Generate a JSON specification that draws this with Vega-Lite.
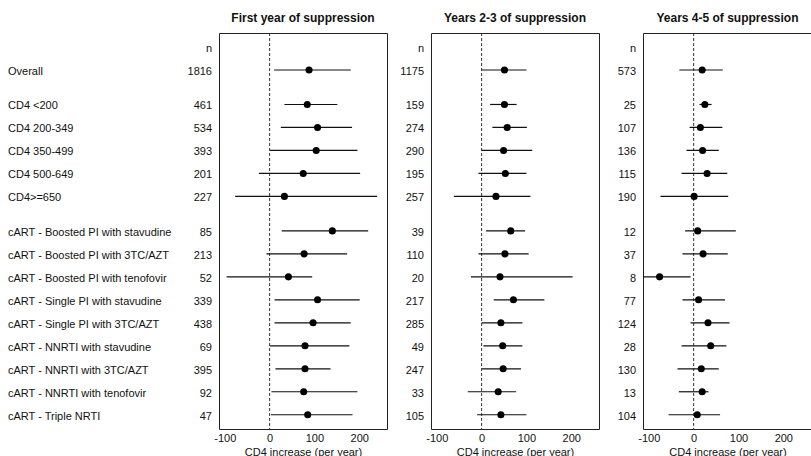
{
  "$schema": "https://vega.github.io/schema/vega-lite/v6.json",
  "padding": {"left": 8, "top": 11, "right": 0, "bottom": 0},
  "autosize": {"type": "pad"},
  "bounds": "flush",
  "spacing": 7,
  "config": {
    "font": "Liberation Sans",
    "view": {"stroke": "#222", "strokeWidth": 1},
    "text": {"fontSize": 11, "color": "#111"},
    "axis": {"labelFont": "Liberation Sans", "titleFont": "Liberation Sans", "labelColor": "#111", "titleColor": "#111"},
    "title": {"font": "Liberation Sans", "fontSize": 12, "fontWeight": "bold", "color": "#111", "offset": 8, "frame": "group"}
  },
  "datasets": {
    "rows": [
      {"panel": "P1", "label": "Overall", "pos": 1, "n": 1816, "est": 88, "lo": 10, "hi": 181},
      {"panel": "P1", "label": "CD4 <200", "pos": 2.5, "n": 461, "est": 84, "lo": 33, "hi": 151},
      {"panel": "P1", "label": "CD4 200-349", "pos": 3.5, "n": 534, "est": 107, "lo": 25, "hi": 184},
      {"panel": "P1", "label": "CD4 350-499", "pos": 4.5, "n": 393, "est": 104, "lo": 1, "hi": 196},
      {"panel": "P1", "label": "CD4 500-649", "pos": 5.5, "n": 201, "est": 75, "lo": -24, "hi": 202},
      {"panel": "P1", "label": "CD4>=650", "pos": 6.5, "n": 227, "est": 33, "lo": -77, "hi": 240},
      {"panel": "P1", "label": "cART - Boosted PI with stavudine", "pos": 8, "n": 85, "est": 140, "lo": 27, "hi": 220},
      {"panel": "P1", "label": "cART - Boosted PI with 3TC/AZT", "pos": 9, "n": 213, "est": 77, "lo": -7, "hi": 173},
      {"panel": "P1", "label": "cART - Boosted PI with tenofovir", "pos": 10, "n": 52, "est": 42, "lo": -96, "hi": 95},
      {"panel": "P1", "label": "cART - Single PI with stavudine", "pos": 11, "n": 339, "est": 107, "lo": 11, "hi": 201},
      {"panel": "P1", "label": "cART - Single PI with 3TC/AZT", "pos": 12, "n": 438, "est": 97, "lo": 11, "hi": 181},
      {"panel": "P1", "label": "cART - NNRTI with stavudine", "pos": 13, "n": 69, "est": 79, "lo": 1, "hi": 178},
      {"panel": "P1", "label": "cART - NNRTI with 3TC/AZT", "pos": 14, "n": 395, "est": 79, "lo": 13, "hi": 136},
      {"panel": "P1", "label": "cART - NNRTI with tenofovir", "pos": 15, "n": 92, "est": 76, "lo": 4, "hi": 196},
      {"panel": "P1", "label": "cART - Triple NRTI", "pos": 16, "n": 47, "est": 85, "lo": 3, "hi": 185},

      {"panel": "P2", "label": "Overall", "pos": 1, "n": 1175, "est": 51, "lo": 0, "hi": 100},
      {"panel": "P2", "label": "CD4 <200", "pos": 2.5, "n": 159, "est": 51, "lo": 19, "hi": 78},
      {"panel": "P2", "label": "CD4 200-349", "pos": 3.5, "n": 274, "est": 57, "lo": 24, "hi": 101},
      {"panel": "P2", "label": "CD4 350-499", "pos": 4.5, "n": 290, "est": 49, "lo": 0, "hi": 113},
      {"panel": "P2", "label": "CD4 500-649", "pos": 5.5, "n": 195, "est": 53, "lo": -7, "hi": 100},
      {"panel": "P2", "label": "CD4>=650", "pos": 6.5, "n": 257, "est": 32, "lo": -62, "hi": 109},
      {"panel": "P2", "label": "cART - Boosted PI with stavudine", "pos": 8, "n": 39, "est": 65, "lo": 10, "hi": 97},
      {"panel": "P2", "label": "cART - Boosted PI with 3TC/AZT", "pos": 9, "n": 110, "est": 52, "lo": -7, "hi": 105},
      {"panel": "P2", "label": "cART - Boosted PI with tenofovir", "pos": 10, "n": 20, "est": 41, "lo": -24, "hi": 203},
      {"panel": "P2", "label": "cART - Single PI with stavudine", "pos": 11, "n": 217, "est": 71, "lo": 27, "hi": 140},
      {"panel": "P2", "label": "cART - Single PI with 3TC/AZT", "pos": 12, "n": 285, "est": 43, "lo": 0, "hi": 91},
      {"panel": "P2", "label": "cART - NNRTI with stavudine", "pos": 13, "n": 49, "est": 47, "lo": 4, "hi": 91},
      {"panel": "P2", "label": "cART - NNRTI with 3TC/AZT", "pos": 14, "n": 247, "est": 48, "lo": 1, "hi": 88},
      {"panel": "P2", "label": "cART - NNRTI with tenofovir", "pos": 15, "n": 33, "est": 37, "lo": -31, "hi": 77},
      {"panel": "P2", "label": "cART - Triple NRTI", "pos": 16, "n": 105, "est": 43, "lo": -10, "hi": 100},

      {"panel": "P3", "label": "Overall", "pos": 1, "n": 573, "est": 19, "lo": -32, "hi": 65},
      {"panel": "P3", "label": "CD4 <200", "pos": 2.5, "n": 25, "est": 25, "lo": 13, "hi": 40},
      {"panel": "P3", "label": "CD4 200-349", "pos": 3.5, "n": 107, "est": 15, "lo": -9, "hi": 64},
      {"panel": "P3", "label": "CD4 350-499", "pos": 4.5, "n": 136, "est": 20, "lo": -16, "hi": 56},
      {"panel": "P3", "label": "CD4 500-649", "pos": 5.5, "n": 115, "est": 30, "lo": -27, "hi": 75},
      {"panel": "P3", "label": "CD4>=650", "pos": 6.5, "n": 190, "est": 1, "lo": -74, "hi": 77},
      {"panel": "P3", "label": "cART - Boosted PI with stavudine", "pos": 8, "n": 12, "est": 9, "lo": -19, "hi": 94},
      {"panel": "P3", "label": "cART - Boosted PI with 3TC/AZT", "pos": 9, "n": 37, "est": 21, "lo": -25, "hi": 76},
      {"panel": "P3", "label": "cART - Boosted PI with tenofovir", "pos": 10, "n": 8, "est": -76, "lo": -116, "hi": -7},
      {"panel": "P3", "label": "cART - Single PI with stavudine", "pos": 11, "n": 77, "est": 11, "lo": -25, "hi": 70},
      {"panel": "P3", "label": "cART - Single PI with 3TC/AZT", "pos": 12, "n": 124, "est": 32, "lo": -7, "hi": 80},
      {"panel": "P3", "label": "cART - NNRTI with stavudine", "pos": 13, "n": 28, "est": 38, "lo": -27, "hi": 73},
      {"panel": "P3", "label": "cART - NNRTI with 3TC/AZT", "pos": 14, "n": 130, "est": 17, "lo": -36, "hi": 56},
      {"panel": "P3", "label": "cART - NNRTI with tenofovir", "pos": 15, "n": 13, "est": 19, "lo": -33, "hi": 33},
      {"panel": "P3", "label": "cART - Triple NRTI", "pos": 16, "n": 104, "est": 8, "lo": -56, "hi": 59}
    ],
    "header": [{"pos": 0, "txt": "n"}],
    "zero": [{"v": 0}]
  },
  "hconcat": [
    {
      "width": 204, "height": 396, "view": {"stroke": null},
      "layer": [
        {
          "data": {"name": "rows"},
          "transform": [{"filter": "datum.panel == 'P1'"}],
          "mark": {"type": "text", "align": "left", "baseline": "middle", "dy": 2},
          "encoding": {
            "x": {"datum": 0, "type": "quantitative", "scale": {"domain": [0, 1]}, "axis": null},
            "y": {"field": "pos", "type": "quantitative", "scale": {"domain": [-0.61, 16.62], "reverse": true, "nice": false, "zero": false}, "axis": null},
            "text": {"field": "label"}
          }
        },
        {
          "data": {"name": "rows"},
          "transform": [{"filter": "datum.panel == 'P1'"}],
          "mark": {"type": "text", "align": "right", "baseline": "middle", "dy": 2},
          "encoding": {
            "x": {"datum": 1, "type": "quantitative", "scale": {"domain": [0, 1]}, "axis": null},
            "y": {"field": "pos", "type": "quantitative", "scale": {"domain": [-0.61, 16.62], "reverse": true, "nice": false, "zero": false}, "axis": null},
            "text": {"field": "n"}
          }
        },
        {
          "data": {"name": "header"},
          "mark": {"type": "text", "align": "right", "baseline": "middle", "dy": 2},
          "encoding": {
            "x": {"datum": 1, "type": "quantitative", "scale": {"domain": [0, 1]}, "axis": null},
            "y": {"field": "pos", "type": "quantitative", "scale": {"domain": [-0.61, 16.62], "reverse": true, "nice": false, "zero": false}, "axis": null},
            "text": {"field": "txt"}
          }
        }
      ]
    },
    {
      "width": 168, "height": 396,
      "title": {"text": "First year of suppression"},
      "layer": [
        {
          "data": {"name": "zero"},
          "mark": {"type": "rule", "strokeDash": [3, 2], "color": "#333", "strokeWidth": 1},
          "encoding": {
            "x": {"field": "v", "type": "quantitative", "scale": {"domain": [-113, 262], "nice": false, "zero": false},
              "axis": {"values": [-100, 0, 100, 200], "labelExpr": "toString(datum.value)", "ticks": false, "domain": false, "grid": false, "labelPadding": 3, "labelFontSize": 11, "title": "CD4 increase (per year)", "titleFontSize": 11, "titleFontWeight": "normal", "titlePadding": 3}}
          }
        },
        {
          "data": {"name": "rows"},
          "transform": [{"filter": "datum.panel == 'P1'"}],
          "mark": {"type": "rule", "color": "#111", "strokeWidth": 1.2, "clip": true},
          "encoding": {
            "x": {"field": "lo", "type": "quantitative"},
            "x2": {"field": "hi"},
            "y": {"field": "pos", "type": "quantitative", "scale": {"domain": [-0.61, 16.62], "reverse": true, "nice": false, "zero": false}, "axis": null}
          }
        },
        {
          "data": {"name": "rows"},
          "transform": [{"filter": "datum.panel == 'P1'"}],
          "mark": {"type": "point", "filled": true, "color": "#000", "size": 50, "opacity": 1, "clip": true},
          "encoding": {
            "x": {"field": "est", "type": "quantitative"},
            "y": {"field": "pos", "type": "quantitative"}
          }
        }
      ]
    },
    {
      "width": 30, "height": 396, "view": {"stroke": null},
      "layer": [
        {
          "data": {"name": "rows"},
          "transform": [{"filter": "datum.panel == 'P2'"}],
          "mark": {"type": "text", "align": "right", "baseline": "middle", "dy": 2},
          "encoding": {
            "x": {"datum": 1, "type": "quantitative", "scale": {"domain": [0, 1]}, "axis": null},
            "y": {"field": "pos", "type": "quantitative", "scale": {"domain": [-0.61, 16.62], "reverse": true, "nice": false, "zero": false}, "axis": null},
            "text": {"field": "n"}
          }
        },
        {
          "data": {"name": "header"},
          "mark": {"type": "text", "align": "right", "baseline": "middle", "dy": 2},
          "encoding": {
            "x": {"datum": 1, "type": "quantitative", "scale": {"domain": [0, 1]}, "axis": null},
            "y": {"field": "pos", "type": "quantitative", "scale": {"domain": [-0.61, 16.62], "reverse": true, "nice": false, "zero": false}, "axis": null},
            "text": {"field": "txt"}
          }
        }
      ]
    },
    {
      "width": 168, "height": 396,
      "title": {"text": "Years 2-3 of suppression"},
      "layer": [
        {
          "data": {"name": "zero"},
          "mark": {"type": "rule", "strokeDash": [3, 2], "color": "#333", "strokeWidth": 1},
          "encoding": {
            "x": {"field": "v", "type": "quantitative", "scale": {"domain": [-113, 262], "nice": false, "zero": false},
              "axis": {"values": [-100, 0, 100, 200], "labelExpr": "toString(datum.value)", "ticks": false, "domain": false, "grid": false, "labelPadding": 3, "labelFontSize": 11, "title": "CD4 increase (per year)", "titleFontSize": 11, "titleFontWeight": "normal", "titlePadding": 3}}
          }
        },
        {
          "data": {"name": "rows"},
          "transform": [{"filter": "datum.panel == 'P2'"}],
          "mark": {"type": "rule", "color": "#111", "strokeWidth": 1.2, "clip": true},
          "encoding": {
            "x": {"field": "lo", "type": "quantitative"},
            "x2": {"field": "hi"},
            "y": {"field": "pos", "type": "quantitative", "scale": {"domain": [-0.61, 16.62], "reverse": true, "nice": false, "zero": false}, "axis": null}
          }
        },
        {
          "data": {"name": "rows"},
          "transform": [{"filter": "datum.panel == 'P2'"}],
          "mark": {"type": "point", "filled": true, "color": "#000", "size": 50, "opacity": 1, "clip": true},
          "encoding": {
            "x": {"field": "est", "type": "quantitative"},
            "y": {"field": "pos", "type": "quantitative"}
          }
        }
      ]
    },
    {
      "width": 30, "height": 396, "view": {"stroke": null},
      "layer": [
        {
          "data": {"name": "rows"},
          "transform": [{"filter": "datum.panel == 'P3'"}],
          "mark": {"type": "text", "align": "right", "baseline": "middle", "dy": 2},
          "encoding": {
            "x": {"datum": 1, "type": "quantitative", "scale": {"domain": [0, 1]}, "axis": null},
            "y": {"field": "pos", "type": "quantitative", "scale": {"domain": [-0.61, 16.62], "reverse": true, "nice": false, "zero": false}, "axis": null},
            "text": {"field": "n"}
          }
        },
        {
          "data": {"name": "header"},
          "mark": {"type": "text", "align": "right", "baseline": "middle", "dy": 2},
          "encoding": {
            "x": {"datum": 1, "type": "quantitative", "scale": {"domain": [0, 1]}, "axis": null},
            "y": {"field": "pos", "type": "quantitative", "scale": {"domain": [-0.61, 16.62], "reverse": true, "nice": false, "zero": false}, "axis": null},
            "text": {"field": "txt"}
          }
        }
      ]
    },
    {
      "width": 169, "height": 396,
      "title": {"text": "Years 4-5 of suppression"},
      "layer": [
        {
          "data": {"name": "zero"},
          "mark": {"type": "rule", "strokeDash": [3, 2], "color": "#333", "strokeWidth": 1},
          "encoding": {
            "x": {"field": "v", "type": "quantitative", "scale": {"domain": [-113, 264], "nice": false, "zero": false},
              "axis": {"values": [-100, 0, 100, 200], "labelExpr": "toString(datum.value)", "ticks": false, "domain": false, "grid": false, "labelPadding": 3, "labelFontSize": 11, "title": "CD4 increase (per year)", "titleFontSize": 11, "titleFontWeight": "normal", "titlePadding": 3}}
          }
        },
        {
          "data": {"name": "rows"},
          "transform": [{"filter": "datum.panel == 'P3'"}],
          "mark": {"type": "rule", "color": "#111", "strokeWidth": 1.2, "clip": true},
          "encoding": {
            "x": {"field": "lo", "type": "quantitative"},
            "x2": {"field": "hi"},
            "y": {"field": "pos", "type": "quantitative", "scale": {"domain": [-0.61, 16.62], "reverse": true, "nice": false, "zero": false}, "axis": null}
          }
        },
        {
          "data": {"name": "rows"},
          "transform": [{"filter": "datum.panel == 'P3'"}],
          "mark": {"type": "point", "filled": true, "color": "#000", "size": 50, "opacity": 1, "clip": true},
          "encoding": {
            "x": {"field": "est", "type": "quantitative"},
            "y": {"field": "pos", "type": "quantitative"}
          }
        }
      ]
    }
  ]
}
